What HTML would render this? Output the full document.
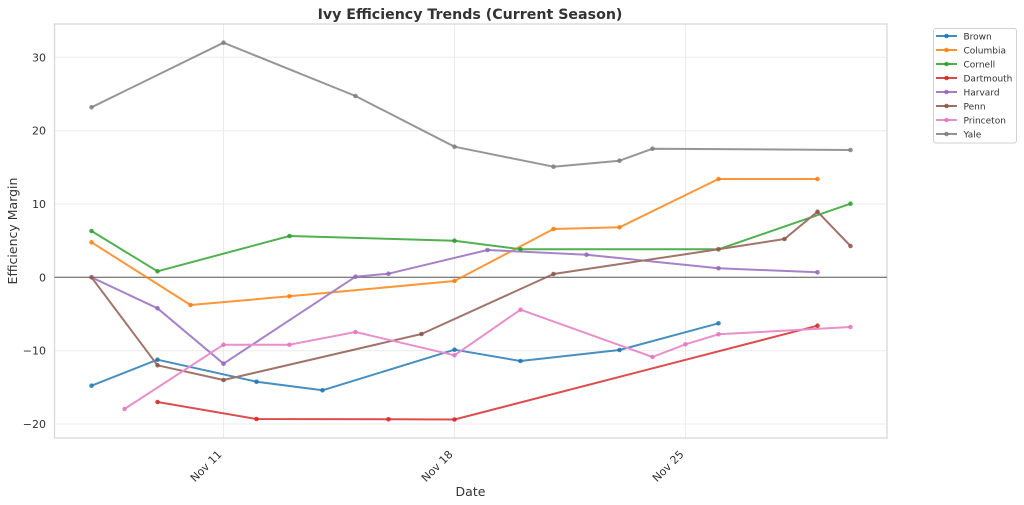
<!DOCTYPE html>
<html><head><meta charset="utf-8"><style>
html,body{margin:0;padding:0;background:#fff;}
svg{display:block;}
text{font-family:"DejaVu Sans","Liberation Sans",sans-serif;fill:#333;}
</style></head><body>
<svg width="1024" height="505" viewBox="0 0 1024 505" xmlns="http://www.w3.org/2000/svg">
<rect x="0" y="0" width="1024" height="505" fill="#fff"/>
<!-- grid -->
<g stroke="#ebebeb" stroke-width="1">
<line x1="54.5" y1="57.3" x2="887" y2="57.3"/>
<line x1="54.5" y1="130.7" x2="887" y2="130.7"/>
<line x1="54.5" y1="204" x2="887" y2="204"/>
<line x1="54.5" y1="350.7" x2="887" y2="350.7"/>
<line x1="54.5" y1="424" x2="887" y2="424"/>
<line x1="223.5" y1="24" x2="223.5" y2="438"/>
<line x1="454.5" y1="24" x2="454.5" y2="438"/>
<line x1="685.5" y1="24" x2="685.5" y2="438"/>
</g>
<rect x="54.5" y="24" width="832.5" height="414" fill="none" stroke="#d8d8d8" stroke-width="1.3"/>
<line x1="54.5" y1="277.3" x2="887" y2="277.3" stroke="#555" stroke-width="1"/>
<!-- series -->
<g fill="none" stroke-width="2" stroke-linejoin="round" opacity="0.82">
<polyline stroke="#1f77b4" points="91.5,385.7 157.5,359.7 256.5,381.7 322.5,390.3 454.5,349.7 520.5,361 619.5,350 718.5,323.3"/>
<polyline stroke="#ff7f0e" points="91.5,242.3 190.5,305 289.5,296.3 454.5,281 553.5,229 619.5,227.3 718.5,179 817.5,179"/>
<polyline stroke="#2ca02c" points="91.5,231 157.5,271.3 289.5,236 454.5,240.7 520.5,249.3 718.5,249.3 850.5,203.7"/>
<polyline stroke="#d62728" points="157.5,402 256.5,419 388.5,419.3 454.5,419.5 817.5,325.7"/>
<polyline stroke="#9467bd" points="91.5,277.3 157.5,308.3 223.5,363.7 355.5,276.7 388.5,273.7 487.5,250 586.5,254.7 718.5,268.3 817.5,272.3"/>
<polyline stroke="#8c564b" points="91.5,277.3 157.5,365.3 223.5,380 421.5,334 553.5,274 718.5,249.3 784.5,239 817.5,211.7 850.5,246"/>
<polyline stroke="#e377c2" points="124.5,409 223.5,344.7 289.5,344.7 355.5,332 454.5,355.3 520.5,309.7 652.5,357 685.5,344.3 718.5,334.3 850.5,327"/>
<polyline stroke="#7f7f7f" points="91.5,107.3 223.5,42.7 355.5,96 454.5,146.7 553.5,166.7 619.5,160.7 652.5,148.7 850.5,150"/>
</g>
<g opacity="0.85">
<g fill="#1f77b4"><circle cx="91.5" cy="385.7" r="2.3"/><circle cx="157.5" cy="359.7" r="2.3"/><circle cx="256.5" cy="381.7" r="2.3"/><circle cx="322.5" cy="390.3" r="2.3"/><circle cx="454.5" cy="349.7" r="2.3"/><circle cx="520.5" cy="361" r="2.3"/><circle cx="619.5" cy="350" r="2.3"/><circle cx="718.5" cy="323.3" r="2.3"/></g>
<g fill="#ff7f0e"><circle cx="91.5" cy="242.3" r="2.3"/><circle cx="190.5" cy="305" r="2.3"/><circle cx="289.5" cy="296.3" r="2.3"/><circle cx="454.5" cy="281" r="2.3"/><circle cx="553.5" cy="229" r="2.3"/><circle cx="619.5" cy="227.3" r="2.3"/><circle cx="718.5" cy="179" r="2.3"/><circle cx="817.5" cy="179" r="2.3"/></g>
<g fill="#2ca02c"><circle cx="91.5" cy="231" r="2.3"/><circle cx="157.5" cy="271.3" r="2.3"/><circle cx="289.5" cy="236" r="2.3"/><circle cx="454.5" cy="240.7" r="2.3"/><circle cx="520.5" cy="249.3" r="2.3"/><circle cx="718.5" cy="249.3" r="2.3"/><circle cx="850.5" cy="203.7" r="2.3"/></g>
<g fill="#d62728"><circle cx="157.5" cy="402" r="2.3"/><circle cx="256.5" cy="419" r="2.3"/><circle cx="388.5" cy="419.3" r="2.3"/><circle cx="454.5" cy="419.5" r="2.3"/><circle cx="817.5" cy="325.7" r="2.3"/></g>
<g fill="#9467bd"><circle cx="91.5" cy="277.3" r="2.3"/><circle cx="157.5" cy="308.3" r="2.3"/><circle cx="223.5" cy="363.7" r="2.3"/><circle cx="355.5" cy="276.7" r="2.3"/><circle cx="388.5" cy="273.7" r="2.3"/><circle cx="487.5" cy="250" r="2.3"/><circle cx="586.5" cy="254.7" r="2.3"/><circle cx="718.5" cy="268.3" r="2.3"/><circle cx="817.5" cy="272.3" r="2.3"/></g>
<g fill="#8c564b"><circle cx="91.5" cy="277.3" r="2.3"/><circle cx="157.5" cy="365.3" r="2.3"/><circle cx="223.5" cy="380" r="2.3"/><circle cx="421.5" cy="334" r="2.3"/><circle cx="553.5" cy="274" r="2.3"/><circle cx="718.5" cy="249.3" r="2.3"/><circle cx="784.5" cy="239" r="2.3"/><circle cx="817.5" cy="211.7" r="2.3"/><circle cx="850.5" cy="246" r="2.3"/></g>
<g fill="#e377c2"><circle cx="124.5" cy="409" r="2.3"/><circle cx="223.5" cy="344.7" r="2.3"/><circle cx="289.5" cy="344.7" r="2.3"/><circle cx="355.5" cy="332" r="2.3"/><circle cx="454.5" cy="355.3" r="2.3"/><circle cx="520.5" cy="309.7" r="2.3"/><circle cx="652.5" cy="357" r="2.3"/><circle cx="685.5" cy="344.3" r="2.3"/><circle cx="718.5" cy="334.3" r="2.3"/><circle cx="850.5" cy="327" r="2.3"/></g>
<g fill="#7f7f7f"><circle cx="91.5" cy="107.3" r="2.3"/><circle cx="223.5" cy="42.7" r="2.3"/><circle cx="355.5" cy="96" r="2.3"/><circle cx="454.5" cy="146.7" r="2.3"/><circle cx="553.5" cy="166.7" r="2.3"/><circle cx="619.5" cy="160.7" r="2.3"/><circle cx="652.5" cy="148.7" r="2.3"/><circle cx="850.5" cy="150" r="2.3"/></g>
</g>
<!-- y tick labels -->
<g font-size="11" text-anchor="end">
<text x="46" y="61.3">30</text>
<text x="46" y="134.7">20</text>
<text x="46" y="208">10</text>
<text x="46" y="281.3">0</text>
<text x="46" y="354.7">−10</text>
<text x="46" y="428">−20</text>
</g>
<!-- x tick labels -->
<g font-size="11" text-anchor="end">
<text x="222.5" y="455" transform="rotate(-45 222.5 455)">Nov 11</text>
<text x="453.5" y="455" transform="rotate(-45 453.5 455)">Nov 18</text>
<text x="684.5" y="455" transform="rotate(-45 684.5 455)">Nov 25</text>
</g>
<text x="470.5" y="496" font-size="12.5" text-anchor="middle">Date</text>
<text x="17" y="231" font-size="12.5" text-anchor="middle" transform="rotate(-90 17 231)">Efficiency Margin</text>
<text x="470" y="19" font-size="14.2" font-weight="bold" text-anchor="middle" fill="#222">Ivy Efficiency Trends (Current Season)</text>
<!-- legend -->
<rect x="933.5" y="28.5" width="83" height="114.5" rx="2.5" fill="#fff" stroke="#d0d0d0" stroke-width="1"/>
<g stroke-width="2" opacity="0.85">
<line x1="936" y1="36" x2="957" y2="36" stroke="#1f77b4"/>
<line x1="936" y1="50" x2="957" y2="50" stroke="#ff7f0e"/>
<line x1="936" y1="64" x2="957" y2="64" stroke="#2ca02c"/>
<line x1="936" y1="78" x2="957" y2="78" stroke="#d62728"/>
<line x1="936" y1="92" x2="957" y2="92" stroke="#9467bd"/>
<line x1="936" y1="106" x2="957" y2="106" stroke="#8c564b"/>
<line x1="936" y1="120" x2="957" y2="120" stroke="#e377c2"/>
<line x1="936" y1="134" x2="957" y2="134" stroke="#7f7f7f"/>
</g>
<g opacity="0.85">
<circle cx="946.5" cy="36" r="2.3" fill="#1f77b4"/>
<circle cx="946.5" cy="50" r="2.3" fill="#ff7f0e"/>
<circle cx="946.5" cy="64" r="2.3" fill="#2ca02c"/>
<circle cx="946.5" cy="78" r="2.3" fill="#d62728"/>
<circle cx="946.5" cy="92" r="2.3" fill="#9467bd"/>
<circle cx="946.5" cy="106" r="2.3" fill="#8c564b"/>
<circle cx="946.5" cy="120" r="2.3" fill="#e377c2"/>
<circle cx="946.5" cy="134" r="2.3" fill="#7f7f7f"/>
</g>
<g font-size="9">
<text x="963.5" y="39.3">Brown</text>
<text x="963.5" y="53.3">Columbia</text>
<text x="963.5" y="67.3">Cornell</text>
<text x="963.5" y="81.3">Dartmouth</text>
<text x="963.5" y="95.3">Harvard</text>
<text x="963.5" y="109.3">Penn</text>
<text x="963.5" y="123.3">Princeton</text>
<text x="963.5" y="137.3">Yale</text>
</g>
</svg>
</body></html>
